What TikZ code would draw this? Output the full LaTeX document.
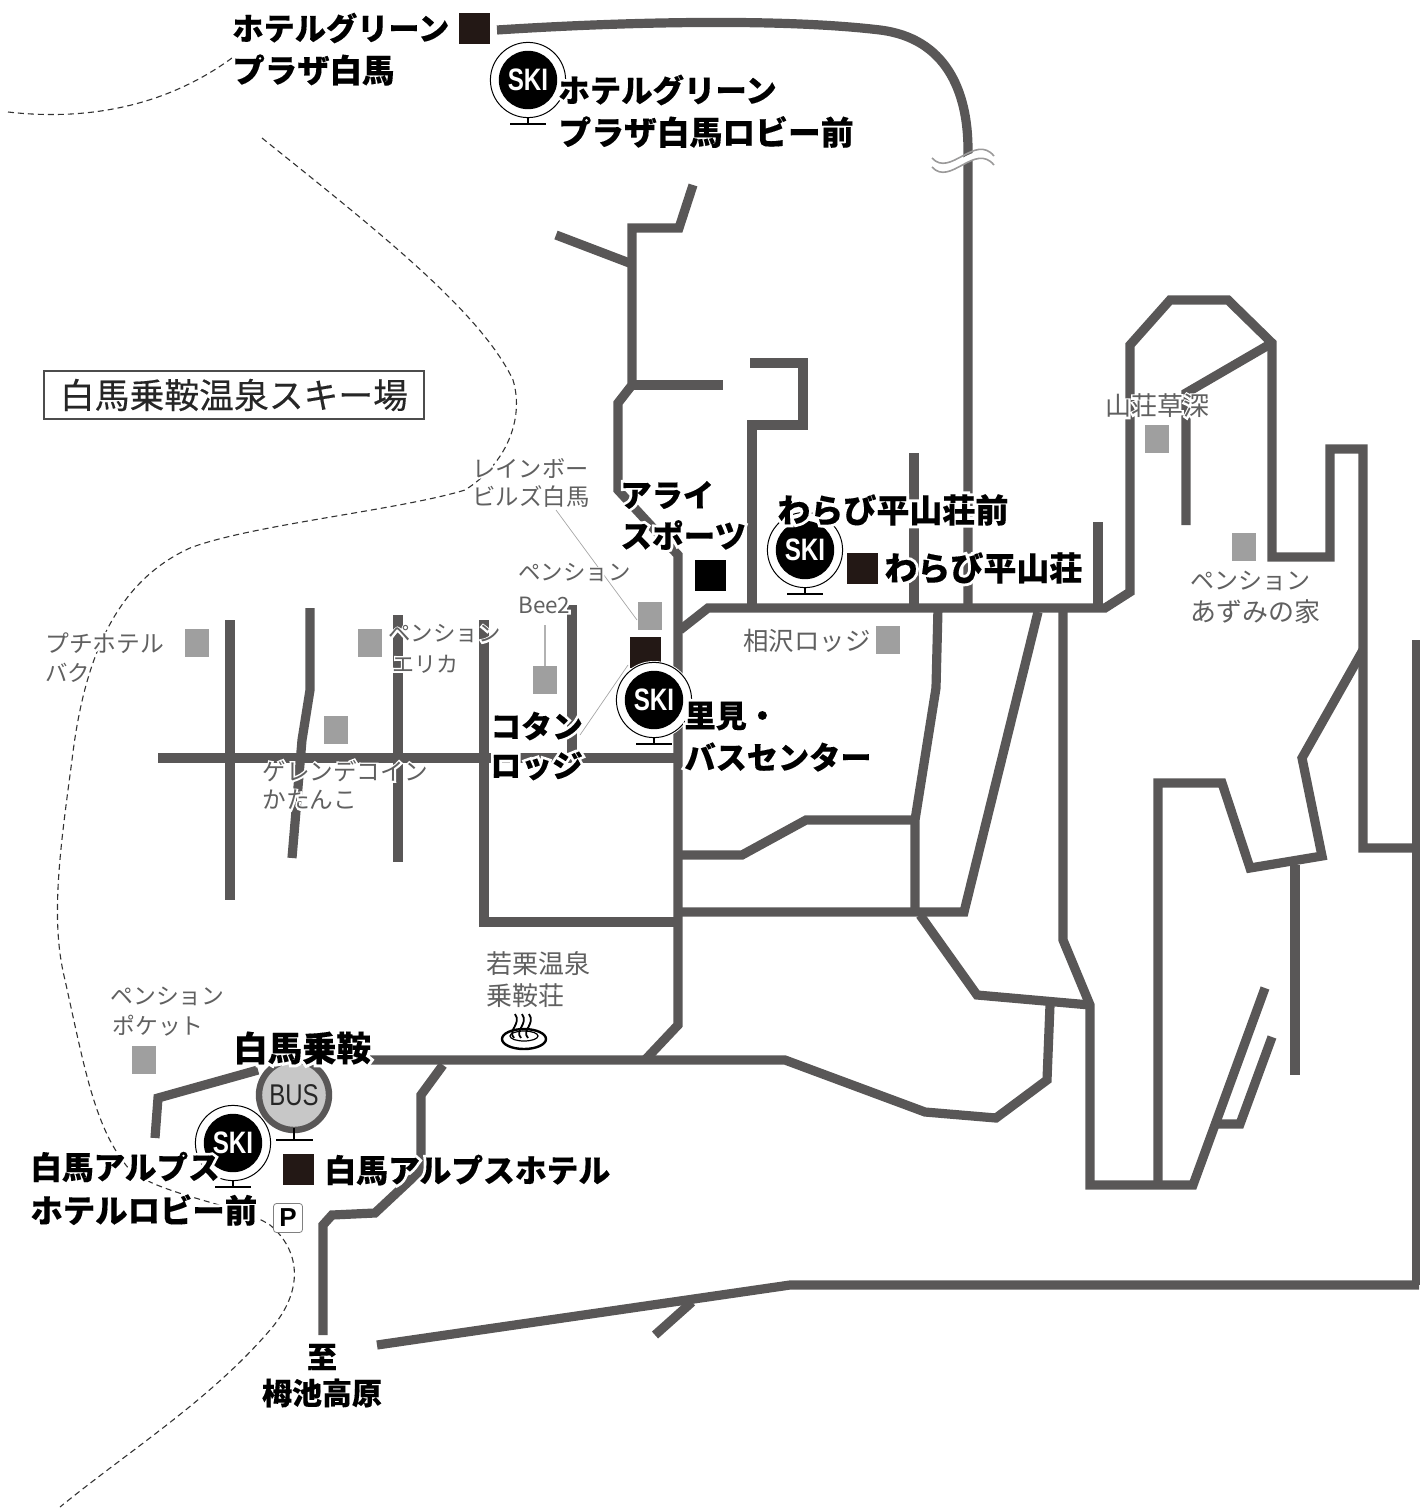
\documentclass[tikz,border=0pt]{standalone}
\usepackage{fontspec}
\setmainfont{Noto Sans CJK JP}
\setsansfont{Liberation Sans}
\newfontfamily\halofont{Noto Sans CJK JP}[BoldFeatures={FakeBold=18}]
\newfontfamily\halothin{Noto Sans CJK JP}[FakeBold=14]
\newfontfamily\heavyfont{Noto Sans CJK JP}[BoldFeatures={FakeBold=0.25}]
\newfontfamily\titlefont{Noto Sans CJK JP}[FakeBold=0.3]
\usetikzlibrary{calc}
\definecolor{road}{HTML}{595757}
\definecolor{sq}{HTML}{231815}
\definecolor{gsq}{HTML}{9F9F9F}
\definecolor{gtx}{HTML}{606060}
\tikzset{
 rd/.style={draw=road,line width=4.6pt,line join=miter},
 dsh/.style={draw=black!80,line width=0.55pt,dash pattern=on 3pt off 2pt},
 lead/.style={draw=black!35,line width=0.35pt},
 blacksq/.style={fill=sq,draw=none,minimum size=15.5pt,inner sep=0pt},
 graysq/.style={fill=gsq,draw=none,minimum width=12.4pt,minimum height=14.4pt,inner sep=0pt},
}
% name, x, y, size, anchor, text: a bold label with a white halo under it
\newcommand{\hlabel}[6]{%
 \node[anchor=#5,inner sep=0pt,text=white,font=\fontsize{#4}{#4}\selectfont\halofont\bfseries] (#1h) at (#2,#3) {#6};
 \node[anchor=#5,inner sep=0pt,text=black,font=\fontsize{#4}{#4}\selectfont\heavyfont\bfseries] (#1) at (#2,#3) {#6};
}
% name, x, y, size, text: a gray label with a thin white halo
\newcommand{\glabel}[5]{%
 \node[anchor=west,inner sep=0pt,text=white,font=\fontsize{#4}{#4}\selectfont\halothin] (#1h) at (#2,#3) {#5};
 \node[anchor=west,inner sep=0pt,text=gtx,font=\fontsize{#4}{#4}\selectfont] (#1) at (#2,#3) {#5};
}
\newcommand{\skimark}[2]{%
 \fill[white] (#1,#2) circle[radius=19.5pt];
 \draw[black,line width=0.5pt] (#1,#2) circle[radius=18.8pt];
 \fill[black] (#1,#2) circle[radius=14.6pt];
 \draw[black,line width=0.8pt] (#1,#2+38)--(#1,#2+44);
 \draw[black,line width=1pt] (#1-18,#2+44)--(#1+18,#2+44);
 \node[inner sep=0pt,text=white,font=\sffamily\fontsize{15.5}{15.5}\selectfont\bfseries] (ski#1) at (#1,#2) {\scalebox{.78}[1]{SKI}};
}
\begin{document}
\begin{tikzpicture}[x=0.5pt,y=-0.5pt]
\useasboundingbox (0,0) rectangle (1419,1509);
% dashed boundaries
\draw[dsh] (8,112) .. controls (60,118) and (150,118) .. (232,58);
\draw[dsh] (262,138) .. controls (370,225) and (480,310) .. (513,380) .. controls (525,420) and (505,465) .. (465,490) .. controls (400,510) and (250,525) .. (190,548) .. controls (120,580) and (85,650) .. (72,760) .. controls (60,850) and (50,920) .. (65,980) .. controls (85,1070) and (95,1130) .. (130,1170) .. controls (160,1195) and (240,1205) .. (270,1225) .. controls (300,1250) and (305,1290) .. (270,1330) .. controls (210,1400) and (130,1450) .. (60,1507);
% roads
\draw[rd] (497,30) .. controls (620,22) and (780,18) .. (880,30) .. controls (945,38) and (968,90) .. (968,150) -- (968,608);
\draw[rd] (693,185)--(679,228)--(632,228)--(632,385)--(618,403)--(618,490)--(678,555)--(678,1025)--(645,1060);
\draw[rd] (556,235)--(632,264);
\draw[rd] (632,385)--(723,385);
\draw[rd] (750,363)--(803,363)--(803,425)--(752,425)--(752,608);
\draw[rd] (680,630)--(708,608)--(1105,608)--(1130,592)--(1130,345)--(1170,300)--(1228,300)--(1272,343)--(1272,557)--(1330,557)--(1330,449)--(1363,449)--(1363,848)--(1417,848);
\draw[rd] (1272,343)--(1186,393)--(1186,525);
\draw[rd] (914,453)--(914,608);
\draw[rd] (1098,522)--(1098,608);
\draw[rd] (938,608)--(936,688)--(915,820)--(915,912);
\draw[rd] (1038,612)--(964,912)--(680,912);
\draw[rd] (680,855)--(742,855)--(806,820)--(915,820);
\draw[rd] (484,620)--(484,922)--(678,922);
\draw[rd] (158,758)--(678,758);
\draw[rd] (230,620)--(230,900);
\draw[rd] (310,608)--(310,690)--(302,740)--(292,858);
\draw[rd] (398,615)--(398,862);
\draw[rd] (572,605)--(572,758);
\draw[rd] (1063,612)--(1063,940)--(1090,1005)--(1090,1185)--(1193,1185)--(1265,988);
\draw[rd] (920,915)--(977,995)--(1090,1005);
\draw[rd] (1050,1005)--(1047,1080)--(996,1118)--(925,1112)--(785,1060)--(370,1060);
\draw[rd] (258,1070)--(158,1098)--(155,1138);
\draw[rd] (1158,1185)--(1158,783)--(1222,783)--(1250,868)--(1322,856)--(1302,758)--(1363,650);
\draw[rd] (1295,865)--(1295,1075);
\draw[rd] (1272,1037)--(1240,1124)--(1216,1124);
\draw[rd] (443,1065)--(421,1095)--(421,1170)--(375,1213)--(332,1215)--(323,1225)--(323,1335);
\draw[rd] (377,1345)--(790,1285)--(1419,1285);
\draw[rd] (655,1335)--(692,1302);
\draw[rd] (1417,640)--(1417,1285);
% road break
\fill[white] (932,160) .. controls (950,180) and (975,135) .. (994,158) -- (994,165) .. controls (975,142) and (950,187) .. (932,167) -- cycle;
\draw[road!60,line width=0.8pt] (932,158) .. controls (950,178) and (975,133) .. (994,156);
\draw[road!60,line width=0.8pt] (932,167) .. controls (950,187) and (975,142) .. (994,165);
% leaders
\draw[lead] (556,510)--(637,620);
\draw[lead] (580,735)--(628,665);
\draw[draw=black!30,line width=0.8pt] (545,625)--(545,666);
% gray labels
\glabel{s1}{472}{468}{11.6}{レインボー}
\glabel{s2}{472}{497}{11.7}{ビルズ白馬}
\glabel{s3}{518}{573}{11.2}{ペンション}
\glabel{s4}{518}{605}{11.2}{Bee2}
\glabel{s5}{388}{634}{11.2}{ペンション}
\glabel{s6}{392}{664}{11}{エリカ}
\glabel{s7}{45}{643}{11.9}{プチホテル}
\glabel{s8}{45}{673}{11.2}{バク}
\glabel{s9}{262}{771}{11.8}{ゲレンデコイン}
\glabel{s10}{262}{800}{11.8}{かたんこ}
\glabel{s11}{743}{641}{12.7}{相沢ロッジ}
\glabel{s12}{1105}{406}{13}{山荘草深}
\glabel{s13}{1190}{581}{12}{ペンション}
\glabel{s14}{1190}{612}{13}{あずみの家}
\glabel{s15}{486}{964}{13}{若栗温泉}
\glabel{s16}{486}{996}{13}{乗鞍荘}
\glabel{s17}{110}{996}{11.4}{ペンション}
\glabel{s18}{112}{1026}{11.4}{ポケット}
% squares
\node[blacksq] (a1) at (474,29) {};
\node[blacksq,fill=black] (a2) at (710,575) {};
\node[blacksq] (a3) at (862,568) {};
\node[blacksq] (a4) at (645,652) {};
\node[blacksq] (a5) at (298,1169) {};
\node[graysq] (g1) at (1157,439) {};
\node[graysq] (g2) at (1244,547) {};
\node[graysq] (g3) at (650,616) {};
\node[graysq] (g4) at (545,680) {};
\node[graysq] (g5) at (888,640) {};
\node[graysq] (g6) at (370,643) {};
\node[graysq] (g7) at (197,643) {};
\node[graysq] (g8) at (336,730) {};
\node[graysq] (g9) at (144,1060) {};
% title
\node[draw=black!70,line width=0.6pt,fill=white,minimum width=190pt,minimum height=24pt,inner sep=0pt,font=\fontsize{17.4}{18}\selectfont\titlefont,text=black!85] (title) at (234,395) {白馬乗鞍温泉スキー場};
% markers
\skimark{528}{80}
\skimark{805}{550}
\skimark{654}{700}
\fill[white] (294,1095) circle[radius=20pt];
\node[circle,draw=road,line width=3.2pt,fill=black!22,minimum size=35pt,inner sep=0pt,text=black!85,font=\sffamily\fontsize{15}{15}\selectfont] (bus) at (294,1095) {\scalebox{.8}[1]{BUS}};
\draw[black,line width=0.8pt] (294,1128)--(294,1140);
\draw[black,line width=1pt] (276,1140)--(313,1140);
\skimark{233}{1143}
% parking
\node[draw=black!50,line width=0.4pt,fill=white,rounded corners=1.5pt,minimum size=14.5pt,inner sep=0pt,font=\sffamily\fontsize{13}{13}\selectfont\bfseries] (park) at (288,1218) {P};
% onsen
\draw[black,line width=1.2pt] (524,1039) ellipse[x radius=22,y radius=10];
\draw[black,line width=0.6pt] (524,1036) ellipse[x radius=14,y radius=5];
\foreach \x in {514,521,528}{
 \draw[black,line width=0.9pt] (\x,1038) .. controls (\x-7,1030) and (\x+8,1024) .. (\x+1,1014);
}
% bold labels
\hlabel{t1}{232}{28}{15.6}{west}{ホテルグリーン}
\hlabel{t2}{232}{70}{16.2}{west}{プラザ白馬}
\hlabel{t3}{558}{90}{15.7}{west}{ホテルグリーン}
\hlabel{t4}{558}{132}{16.4}{west}{プラザ白馬ロビー前}
\hlabel{t5}{620}{495}{15.6}{west}{アライ}
\hlabel{t6}{620}{535}{15.8}{west}{スポーツ}
\hlabel{t7}{777}{510}{16.5}{west}{わらび平山荘前}
\hlabel{t8}{884}{568}{16.5}{west}{わらび平山荘}
\hlabel{t9}{684}{716}{15.6}{west}{里見・}
\hlabel{t10}{684}{757}{15.6}{west}{バスセンター}
\hlabel{t11}{490}{726}{15.4}{west}{コタン}
\hlabel{t12}{490}{766}{15.4}{west}{ロッジ}
\hlabel{t13}{233}{1048}{17.2}{west}{白馬乗鞍}
\hlabel{t14}{30}{1167}{15.8}{west}{白馬アルプス}
\hlabel{t15}{30}{1210}{16.2}{west}{ホテルロビー前}
\hlabel{t16}{324}{1170}{15.9}{west}{白馬アルプスホテル}
\hlabel{t17}{322}{1357}{15}{center}{至}
\hlabel{t18}{322}{1393}{15}{center}{栂池高原}
\end{tikzpicture}
\end{document}
